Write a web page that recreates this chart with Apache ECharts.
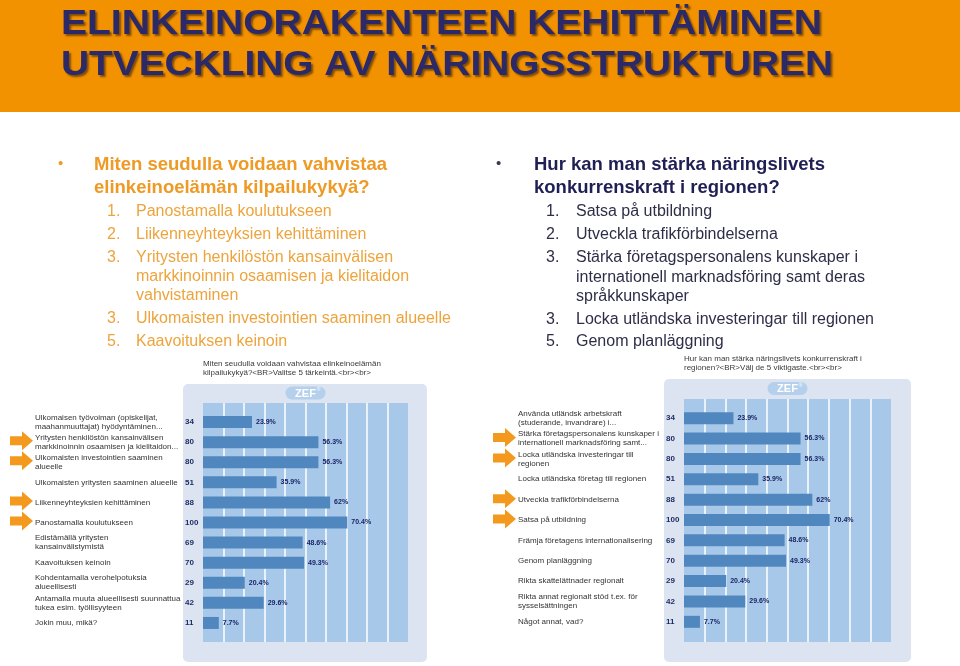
<!DOCTYPE html>
<html><head><meta charset="utf-8">
<script src="https://cdn.jsdelivr.net/npm/echarts@6/dist/echarts.min.js"></script>
<style>html,body{margin:0;padding:0;background:#fff}#c{width:960px;height:666px}</style>
</head><body><div id="c"></div>
<script>
// ---------- data ----------
const titleLines = ['ELINKEINORAKENTEEN KEHITTÄMINEN', 'UTVECKLING AV NÄRINGSSTRUKTUREN'];
const leftHeading = ['Miten seudulla voidaan vahvistaa', 'elinkeinoelämän kilpailukykyä?'];
const leftItems = [
  ['1.', 'Panostamalla koulutukseen'],
  ['2.', 'Liikenneyhteyksien kehittäminen'],
  ['3.', 'Yritysten henkilöstön kansainvälisen'],
  ['', 'markkinoinnin osaamisen ja kielitaidon'],
  ['', 'vahvistaminen'],
  ['3.', 'Ulkomaisten investointien saaminen alueelle'],
  ['5.', 'Kaavoituksen keinoin']
];
const rightHeading = ['Hur kan man stärka näringslivets', 'konkurrenskraft i regionen?'];
const rightItems = [
  ['1.', 'Satsa på utbildning'],
  ['2.', 'Utveckla trafikförbindelserna'],
  ['3.', 'Stärka företagspersonalens kunskaper i'],
  ['', 'internationell marknadsföring samt deras'],
  ['', 'språkkunskaper'],
  ['3.', 'Locka utländska investeringar till regionen'],
  ['5.', 'Genom planläggning']
];
const leftChartTitle = ['Miten seudulla voidaan vahvistaa elinkeinoelämän', 'kilpailukykyä?<BR>Valitse 5 tärkeintä.<br><br>'];
const rightChartTitle = ['Hur kan man stärka näringslivets konkurrenskraft i', 'regionen?<BR>Välj de 5 viktigaste.<br><br>'];
const leftCategories = [
  'Ulkomaisen työvoiman (opiskelijat,\nmaahanmuuttajat) hyödyntäminen...',
  'Yritysten henkilöstön kansainvälisen\nmarkkinoinnin osaamisen ja kielitaidon...',
  'Ulkomaisten investointien saaminen\nalueelle',
  'Ulkomaisten yritysten saaminen alueelle',
  'Liikenneyhteyksien kehittäminen',
  'Panostamalla koulutukseen',
  'Edistämällä yritysten\nkansainvälistymistä',
  'Kaavoituksen keinoin',
  'Kohdentamalla verohelpotuksia\nalueellisesti',
  'Antamalla muuta alueellisesti suunnattua\ntukea esim. työllisyyteen',
  'Jokin muu, mikä?'
];
const rightCategories = [
  'Använda utländsk arbetskraft\n(studerande, invandrare) i...',
  'Stärka företagspersonalens kunskaper i\ninternationell marknadsföring samt...',
  'Locka utländska investeringar till\nregionen',
  'Locka utländska företag till regionen',
  'Utveckla trafikförbindelserna',
  'Satsa på utbildning',
  'Främja företagens internationalisering',
  'Genom planläggning',
  'Rikta skattelättnader regionalt',
  'Rikta annat regionalt stöd t.ex. för\nsysselsättningen',
  'Något annat, vad?'
];
const leftCounts = [34, 80, 80, 51, 88, 100, 69, 70, 29, 42, 11];
const leftPercent = [23.9, 56.3, 56.3, 35.9, 62, 70.4, 48.6, 49.3, 20.4, 29.6, 7.7];
const rightCounts = [34, 80, 80, 51, 88, 100, 69, 70, 29, 42, 11];
const rightPercent = [23.9, 56.3, 56.3, 35.9, 62, 70.4, 48.6, 49.3, 20.4, 29.6, 7.7];
const leftArrowRows = [1, 2, 4, 5];
const rightArrowRows = [1, 2, 4, 5];
const percentTicks = [0, 10, 20, 30, 40, 50, 60, 70, 80, 90, 100];

// ---------- rendering ----------
const FF = '"Liberation Sans", Arial, Helvetica, sans-serif';
const chart = echarts.init(document.getElementById('c'));
const mctx = document.createElement('canvas').getContext('2d');
function measure(text, font) { mctx.font = font; return mctx.measureText(text).width; }

const graphics = [];
graphics.push({type: 'rect', shape: {x: 0, y: 0, width: 960, height: 112}, style: {fill: '#F39200'}, z: 0});
const titleSize = 35;
const titleFont = 'bold ' + titleSize + 'px ' + FF;
const titleTargets = [761, 772];
const titleY = [24, 65];
titleLines.forEach((t, i) => {
  const s = titleTargets[i] / measure(t, titleFont);
  graphics.push({type: 'text', x: 61, y: titleY[i], scaleX: s, scaleY: 1, z: 2,
    style: {text: t, fontSize: titleSize, fontWeight: 'bold', fontFamily: FF, fill: '#2B2968', verticalAlign: 'middle', align: 'left',
      textShadowColor: 'rgba(50,30,10,0.6)', textShadowOffsetX: 2, textShadowOffsetY: 2, textShadowBlur: 2}});
});

function bulletBlock(cfg) {
  graphics.push({type: 'text', x: cfg.bx, y: cfg.headY[0] - 1, style: {text: '•', fontSize: 15, fontFamily: FF, fill: cfg.bulletColor, verticalAlign: 'middle'}});
  cfg.heading.forEach((t, i) => graphics.push({type: 'text', x: cfg.hx, y: cfg.headY[i],
    style: {text: t, fontSize: 18.5, fontWeight: 'bold', fontFamily: FF, fill: cfg.headColor, verticalAlign: 'middle'}}));
  cfg.items.forEach((it, i) => {
    if (it[0]) graphics.push({type: 'text', x: cfg.nx, y: cfg.itemY[i], style: {text: it[0], fontSize: 16, fontFamily: FF, fill: cfg.itemColor, verticalAlign: 'middle'}});
    graphics.push({type: 'text', x: cfg.tx, y: cfg.itemY[i], style: {text: it[1], fontSize: 16, fontFamily: FF, fill: cfg.itemColor, verticalAlign: 'middle'}});
  });
}
bulletBlock({bx: 58, hx: 94, nx: 107, tx: 136, heading: leftHeading, items: leftItems,
  headY: [165, 187.5], itemY: [212, 235, 258, 277, 296, 319, 342],
  bulletColor: '#EE9A25', headColor: '#EE9A25', itemColor: '#EDA43C'});
bulletBlock({bx: 496, hx: 534, nx: 546, tx: 576, heading: rightHeading, items: rightItems,
  headY: [165, 187.5], itemY: [211.5, 234.5, 258, 277.5, 296.5, 319.5, 342],
  bulletColor: '#3a3a50', headColor: '#1F1F55', itemColor: '#2E2E48'});

function chartTitle(lines, x, y) {
  lines.forEach((t, i) => graphics.push({type: 'text', x: x, y: y + i * 8.5,
    style: {text: t, fontSize: 8, fontFamily: FF, fill: '#3a3a3a', verticalAlign: 'middle'}}));
}
chartTitle(leftChartTitle, 203, 364);
chartTitle(rightChartTitle, 684, 359);

function panelBg(x, y, w, h, bx, by) {
  graphics.push({type: 'rect', shape: {x: x, y: y, width: w, height: h, r: 5}, style: {fill: '#DCE3F1'}, z: -10});
  graphics.push({type: 'rect', shape: {x: bx - 20, y: by - 6.5, width: 40, height: 13, r: 6.5}, style: {fill: '#B4D0EC'}, z: -9});
  graphics.push({type: 'text', x: bx, y: by + 0.5, z: -8, style: {text: 'ZEF', fontSize: 11, fontWeight: 'bold', fontFamily: FF, fill: '#fff', align: 'center', verticalAlign: 'middle'}});
  graphics.push({type: 'text', x: bx + 13, y: by - 3, z: -8, style: {text: '®', fontSize: 5, fontFamily: FF, fill: '#fff', align: 'center', verticalAlign: 'middle'}});
}
panelBg(183, 384, 244, 278, 305.5, 393);
panelBg(664, 379, 247, 283, 787.5, 388.5);

function bgXAxis(gi) {
  return {gridIndex: gi, type: 'value', min: percentTicks[0], max: percentTicks[percentTicks.length - 1], interval: percentTicks[1] - percentTicks[0],
    axisLabel: {show: false}, axisLine: {show: false}, axisTick: {show: false},
    splitLine: {show: true, showMinLine: false, showMaxLine: false, lineStyle: {color: '#ffffff', width: 1.5}}};
}
function barXAxis(gi) {
  return {gridIndex: gi, type: 'value', min: percentTicks[0], max: percentTicks[percentTicks.length - 1], show: false, splitLine: {show: false}};
}
function catAxis(gi, cats, margin) {
  return {gridIndex: gi, type: 'category', inverse: true, data: cats, position: 'left',
    axisLine: {show: false}, axisTick: {show: false}, splitLine: {show: false},
    axisLabel: {interval: 0, align: 'left', margin: margin, fontSize: 8, lineHeight: 9, color: '#333', fontFamily: FF}};
}
function countAxis(gi, cats, counts) {
  return {gridIndex: gi, type: 'category', inverse: true, data: cats, position: 'left', offset: 0,
    axisLine: {show: false}, axisTick: {show: false}, splitLine: {show: false},
    axisLabel: {interval: 0, align: 'left', margin: 18, fontSize: 8, fontWeight: 'bold', color: '#1B2A5E', fontFamily: FF,
      formatter: (v, i) => String(counts[i])}};
}
function barSeries(xi, yi, data) {
  return {type: 'bar', xAxisIndex: xi, yAxisIndex: yi, data: data, barWidth: 12,
    itemStyle: {color: '#5187BF'}, silent: true,
    label: {show: true, position: 'right', distance: 4, formatter: '{c}%', fontSize: 7, fontWeight: 'bold', color: '#1A2566', fontFamily: FF}};
}
function arrowSeries(xi, yi, rows, dx, dy) {
  return {type: 'custom', xAxisIndex: xi, yAxisIndex: yi, clip: false, silent: true, z: 10,
    data: rows.map(r => [0, r]),
    renderItem: function (params, api) {
      const p = api.coord([0, api.value(1)]);
      const x0 = p[0] + dx, y = p[1] + dy;
      return {type: 'polygon', shape: {points: [[x0, y - 4.5], [x0 + 12, y - 4.5], [x0 + 12, y - 9.5], [x0 + 23, y], [x0 + 12, y + 9.5], [x0 + 12, y + 4.5], [x0, y + 4.5]]},
        style: {fill: '#F39A1E'}};
    }};
}

chart.setOption({
  animation: false,
  backgroundColor: '#ffffff',
  graphic: {elements: graphics},
  grid: [
    {left: 203, top: 403, width: 205, height: 239, show: true, backgroundColor: '#A7C8E8', borderWidth: 0, outerBoundsMode: 'none', containLabel: false},
    {left: 203, top: 412, width: 205, height: 221, outerBoundsMode: 'none', containLabel: false},
    {left: 684, top: 399, width: 207, height: 243, show: true, backgroundColor: '#A7C8E8', borderWidth: 0, outerBoundsMode: 'none', containLabel: false},
    {left: 684, top: 408, width: 207, height: 224, outerBoundsMode: 'none', containLabel: false}
  ],
  xAxis: [bgXAxis(0), barXAxis(1), bgXAxis(2), barXAxis(3)],
  yAxis: [
    {gridIndex: 0, type: 'value', show: false, splitLine: {show: false}},
    catAxis(1, leftCategories, 168),
    countAxis(1, leftCategories, leftCounts),
    {gridIndex: 2, type: 'value', show: false, splitLine: {show: false}},
    catAxis(3, rightCategories, 166),
    countAxis(3, rightCategories, rightCounts)
  ],
  series: [
    barSeries(1, 1, leftPercent),
    arrowSeries(1, 1, leftArrowRows, -193, -1.5),
    barSeries(3, 4, rightPercent),
    arrowSeries(3, 4, rightArrowRows, -191, -1)
  ]
});
</script>
</body></html>
